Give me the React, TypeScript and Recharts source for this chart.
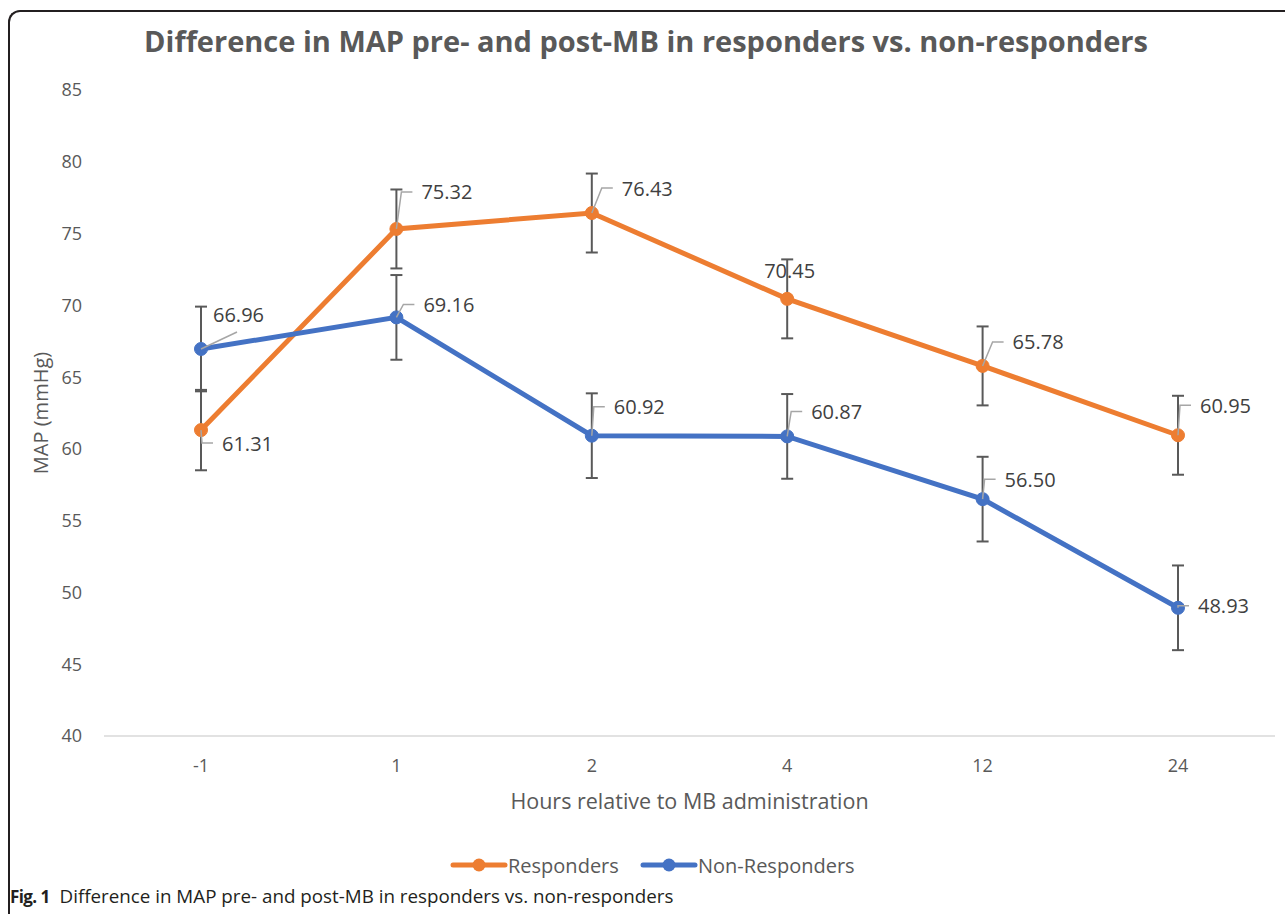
import React from 'react';
import { LineChart, Line, XAxis, YAxis, ErrorBar, Legend, LabelList } from 'recharts';

const categories = ['-1', '1', '2', '4', '12', '24'];
const responders = [61.31, 75.32, 76.43, 70.45, 65.78, 60.95];
const nonResponders = [66.96, 69.16, 60.92, 60.87, 56.5, 48.93];
const respondersErr = [2.8, 2.75, 2.75, 2.75, 2.75, 2.75];
const nonRespondersErr = [2.95, 2.95, 2.95, 2.95, 2.95, 2.95];
const yTicks = [40, 45, 50, 55, 60, 65, 70, 75, 80, 85];

const ORANGE = '#ED7D31';
const BLUE = '#4472C4';
const FONT = '"Open Sans", "Segoe UI", sans-serif';

const data = categories.map((c, i) => ({
  cat: c,
  r: responders[i],
  n: nonResponders[i],
  rErr: respondersErr[i],
  nErr: nonRespondersErr[i],
}));

type LabelLayout = { dx: number; dy: number; leader: 'elbow' | 'none' | 'straight' };

const respLabelLayout: LabelLayout[] = [
  { dx: 21, dy: 13, leader: 'elbow' },
  { dx: 25, dy: -37, leader: 'elbow' },
  { dx: 30, dy: -25, leader: 'elbow' },
  { dx: -23, dy: -28, leader: 'none' },
  { dx: 30, dy: -24, leader: 'elbow' },
  { dx: 22, dy: -30, leader: 'elbow' },
];
const nonRespLabelLayout: LabelLayout[] = [
  { dx: 12, dy: -34, leader: 'straight' },
  { dx: 27, dy: -13, leader: 'elbow' },
  { dx: 22, dy: -29, leader: 'elbow' },
  { dx: 24, dy: -25, leader: 'elbow' },
  { dx: 22, dy: -20, leader: 'elbow' },
  { dx: 20, dy: -2, leader: 'elbow' },
];

const makeLabel = (layout: LabelLayout[]) => (props: any) => {
  const { x, y, value, index } = props;
  const l = layout[index];
  if (!l) return null;
  const tx = x + l.dx;
  const ty = y + l.dy;
  let leader = null;
  if (l.leader === 'elbow') {
    leader = (
      <polyline
        points={`${x},${y} ${tx - 20},${ty} ${tx - 9},${ty}`}
        fill="none"
        stroke="#A6A6A6"
        strokeWidth={1.5}
      />
    );
  } else if (l.leader === 'straight') {
    leader = <line x1={x} y1={y} x2={tx + 24} y2={ty + 17} stroke="#A6A6A6" strokeWidth={1.5} />;
  }
  return (
    <g>
      {leader}
      <text
        x={tx}
        y={ty}
        dominantBaseline="central"
        fontFamily={FONT}
        fontSize={20}
        fill="#404040"
      >
        {Number(value).toFixed(2)}
      </text>
    </g>
  );
};

const LegendContent = () => {
  const items = [
    { name: 'Responders', color: ORANGE, x: 453 },
    { name: 'Non-Responders', color: BLUE, x: 643 },
  ];
  return (
    <svg width={1285} height={30} style={{ display: 'block' }}>
      {items.map((it) => (
        <g key={it.name}>
          <line x1={it.x} y1={15} x2={it.x + 52} y2={15} stroke={it.color} strokeWidth={5} strokeLinecap="round" />
          <circle cx={it.x + 26} cy={15} r={6.5} fill={it.color} />
          <text x={it.x + 55} y={15} dominantBaseline="central" fontFamily={FONT} fontSize={20} fill="#595959">
            {it.name}
          </text>
        </g>
      ))}
    </svg>
  );
};

export default function App() {
  return (
    <div
      style={{
        position: 'absolute',
        left: 0,
        top: 0,
        width: 1285,
        height: 914,
        overflow: 'hidden',
        background: '#fff',
      }}
    >
      <div
        style={{
          position: 'absolute',
          left: 8,
          top: 10,
          width: 1300,
          height: 920,
          borderLeft: '2px solid #231F20',
          borderTop: '2px solid #231F20',
          borderTopLeftRadius: 12,
          borderBottomLeftRadius: 12,
        }}
      />
      <div
        style={{
          position: 'absolute',
          left: 0,
          top: 21,
          width: 1292,
          textAlign: 'center',
          fontFamily: FONT,
          fontWeight: 700,
          fontSize: 29,
          color: '#595959',
          lineHeight: '40px',
        }}
      >
        Difference in MAP pre- and post-MB in responders vs. non-responders
      </div>
      <div style={{ position: 'absolute', left: 0, top: 0 }}>
        <LineChart
          width={1285}
          height={880}
          data={data}
          margin={{ top: 90, right: 10, bottom: 64, left: 0 }}
        >
          <XAxis
            dataKey="cat"
            height={80}
            padding={{ left: 97, right: 97 }}
            tickLine={false}
            tickSize={0}
            tickMargin={23}
            axisLine={{ stroke: '#D9D9D9', strokeWidth: 1.5 }}
            tick={{ fill: '#595959', fontSize: 18, fontFamily: FONT }}
            label={{
              value: 'Hours relative to MB administration',
              position: 'insideBottom',
              offset: 7,
              fill: '#595959',
              fontSize: 21.5,
              fontFamily: FONT,
            }}
          />
          <YAxis
            width={104}
            domain={[40, 85]}
            ticks={yTicks}
            interval={0}
            allowDataOverflow
            tickLine={false}
            tickSize={0}
            tickMargin={22}
            axisLine={false}
            tick={{ fill: '#595959', fontSize: 18, fontFamily: FONT }}
            label={(p: any) => {
              const vb = p.viewBox || {};
              const cy = (vb.y ?? 90) + (vb.height ?? 646) / 2;
              return (
                <text
                  x={40}
                  y={cy}
                  transform={`rotate(-90, 40, ${cy})`}
                  textAnchor="middle"
                  dominantBaseline="central"
                  fontFamily={FONT}
                  fontSize={20}
                  fill="#595959"
                >
                  MAP (mmHg)
                </text>
              );
            }}
          />
          <Legend
            verticalAlign="middle"
            align="center"
            layout="horizontal"
            wrapperStyle={{ top: 850, left: 0, width: 1285 }}
            content={<LegendContent />}
          />
          <Line
            name="Responders"
            dataKey="r"
            stroke={ORANGE}
            strokeWidth={5}
            dot={{ r: 6.5, fill: ORANGE, stroke: ORANGE, strokeWidth: 1 }}
            activeDot={false}
            isAnimationActive={false}
          >
            <ErrorBar dataKey="rErr" width={6} stroke="#595959" strokeWidth={2} direction="y" />
            <LabelList dataKey="r" content={makeLabel(respLabelLayout)} />
          </Line>
          <Line
            name="Non-Responders"
            dataKey="n"
            stroke={BLUE}
            strokeWidth={5}
            dot={{ r: 6.5, fill: BLUE, stroke: BLUE, strokeWidth: 1 }}
            activeDot={false}
            isAnimationActive={false}
          >
            <ErrorBar dataKey="nErr" width={6} stroke="#595959" strokeWidth={2} direction="y" />
            <LabelList dataKey="n" content={makeLabel(nonRespLabelLayout)} />
          </Line>
        </LineChart>
      </div>
      <div
        style={{
          position: 'absolute',
          left: 10,
          top: 883,
          fontFamily: FONT,
          color: '#231F20',
          whiteSpace: 'nowrap',
          lineHeight: '26px',
        }}
      >
        <span style={{ fontWeight: 700, fontSize: 17, letterSpacing: -0.6 }}>Fig. 1</span>
        <span style={{ marginLeft: 10, fontSize: 18.8 }}>
          Difference in MAP pre- and post-MB in responders vs. non-responders
        </span>
      </div>
    </div>
  );
}
